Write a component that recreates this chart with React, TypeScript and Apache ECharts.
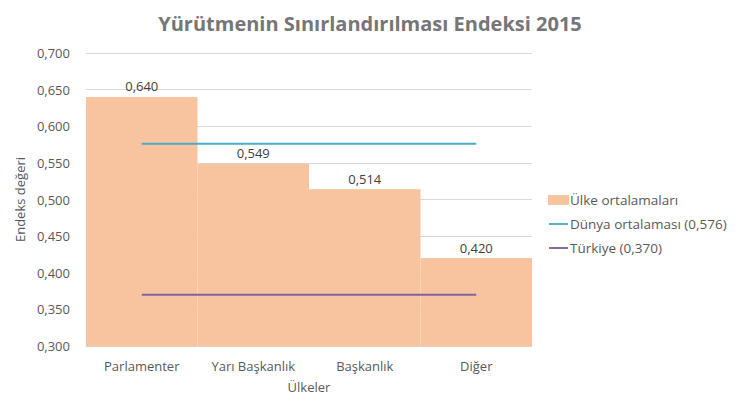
import React, { useEffect, useRef } from "react";
import * as echarts from "echarts";

const categories = ["Parlamenter", "Yarı Başkanlık", "Başkanlık", "Diğer"];
const countryAverages = [0.64, 0.549, 0.514, 0.42];
const worldAverage = [0.576, 0.576, 0.576, 0.576];
const turkey = [0.37, 0.37, 0.37, 0.37];
const yTicks = { min: 0.3, max: 0.7, interval: 0.05 };

const FONT = "Open Sans";
const fmt = (v: number) => v.toFixed(3).replace(".", ",");
const lineIcon = "path://M0,0H20V2H0Z";

export default function App() {
  const ref = useRef<HTMLDivElement>(null);
  useEffect(() => {
    if (!ref.current) return;
    const chart = echarts.init(ref.current, undefined, { renderer: "svg" });
    chart.setOption({
      animation: false,
      textStyle: { fontFamily: FONT },
      title: {
        text: "Yürütmenin Sınırlandırılması Endeksi 2015",
        left: "center",
        top: 8,
        textStyle: { fontFamily: FONT, fontSize: 20, fontWeight: "bold", color: "#767676" },
      },
      grid: { left: 86, right: 208, top: 53, bottom: 65 },
      legend: {
        orient: "vertical",
        left: 543,
        top: 188,
        itemWidth: 19,
        itemHeight: 8,
        itemGap: 10,
        textStyle: { fontFamily: FONT, fontSize: 13.5, color: "#595959", padding: [0, 0, 0, -3] },
        data: [
          { name: "Ülke ortalamaları", icon: "rect" },
          { name: "Dünya ortalaması (0,576)", icon: lineIcon },
          { name: "Türkiye (0,370)", icon: lineIcon },
        ],
      },
      xAxis: {
        type: "category",
        data: categories,
        name: "Ülkeler",
        nameLocation: "middle",
        nameGap: 34,
        nameTextStyle: { fontFamily: FONT, fontSize: 13, color: "#595959" },
        axisLine: { lineStyle: { color: "#d9d9d9" } },
        axisTick: { show: false },
        axisLabel: { fontFamily: FONT, fontSize: 13, color: "#595959", margin: 13 },
      },
      yAxis: {
        type: "value",
        min: yTicks.min,
        max: yTicks.max,
        interval: yTicks.interval,
        name: "Endeks değeri",
        nameLocation: "middle",
        nameGap: 54,
        nameTextStyle: { fontFamily: FONT, fontSize: 13, color: "#595959" },
        axisLine: { show: false },
        axisTick: { show: false },
        splitLine: { lineStyle: { color: "#d9d9d9" } },
        axisLabel: { fontFamily: FONT, fontSize: 13, color: "#595959", margin: 16, formatter: (v: number) => fmt(v) },
      },
      series: [
        {
          name: "Ülke ortalamaları",
          type: "bar",
          data: countryAverages,
          barWidth: "100%",
          barCategoryGap: 0,
          clip: true,
          itemStyle: { color: "#F8C4A0", borderColor: "#F8C4A0", borderWidth: 1 },
          label: {
            show: true,
            position: "top",
            distance: 4,
            fontFamily: FONT,
            fontSize: 13,
            color: "#404040",
            formatter: (p: any) => fmt(p.value),
          },
        },
        {
          name: "Dünya ortalaması (0,576)",
          type: "line",
          data: worldAverage,
          symbol: "none",
          lineStyle: { color: "#4BACC6", width: 2 },
          itemStyle: { color: "#4BACC6" },
        },
        {
          name: "Türkiye (0,370)",
          type: "line",
          data: turkey,
          symbol: "none",
          lineStyle: { color: "#8064A2", width: 2 },
          itemStyle: { color: "#8064A2" },
        },
      ],
    });
    return () => chart.dispose();
  }, []);
  return <div ref={ref} style={{ width: 740, height: 411, position: "absolute", left: 0, top: 0 }} />;
}
